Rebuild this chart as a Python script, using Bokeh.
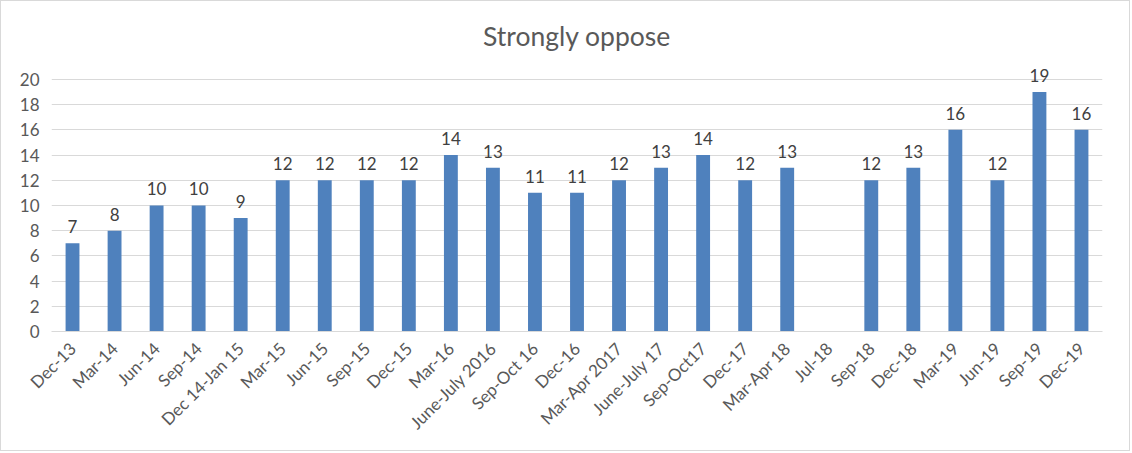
import numpy as np
from bokeh.plotting import figure
from bokeh.models import ColumnDataSource, LabelSet, FixedTicker, Range1d
from bokeh.core.properties import value
from bokeh.embed import file_html
from bokeh.resources import INLINE

# survey waves and share answering "strongly oppose"
periods = ["Dec-13", "Mar-14", "Jun-14", "Sep-14", "Dec 14-Jan 15", "Mar-15", "Jun-15",
           "Sep-15", "Dec-15", "Mar-16", "June-July 2016", "Sep-Oct 16", "Dec-16",
           "Mar-Apr 2017", "June-July 17", "Sep-Oct17", "Dec-17", "Mar-Apr 18", "Jul-18",
           "Sep-18", "Dec-18", "Mar-19", "Jun-19", "Sep-19", "Dec-19"]
oppose = [7, 8, 10, 10, 9, 12, 12, 12, 12, 14, 13, 11, 11, 12, 13, 14, 12, 13, None,
          12, 13, 16, 12, 19, 16]
y_ticks = [0, 2, 4, 6, 8, 10, 12, 14, 16, 18, 20]

FONT = "Lato"
GREY = "#595959"

# drop the wave with no value (Jul-18) from the bars, keep it on the axis
cats = [c for c, v in zip(periods, oppose) if v is not None]
vals = [v for v in oppose if v is not None]
source = ColumnDataSource(data=dict(x=cats, top=vals, txt=[str(v) for v in vals]))

p = figure(x_range=periods, y_range=Range1d(0, 21.5), width=1130, height=451,
           output_backend="svg", toolbar_location=None,
           min_border_left=50, min_border_right=29, min_border_top=59, min_border_bottom=121)

p.vbar(x="x", top="top", width=0.33, source=source, fill_color="#4F81BD", line_color=None)

labels = LabelSet(x="x", y="top", text="txt", source=source, text_align="center",
                  text_baseline="bottom", y_offset=10, text_font=value(FONT),
                  text_font_size="17px", text_color="#404040")
p.add_layout(labels)

p.title.text = "Strongly oppose"
p.title.align = "center"
p.title.text_font = FONT
p.title.text_font_size = "26.5px"
p.title.text_font_style = "normal"
p.title.text_color = GREY
p.title.offset = 0
p.title.standoff = 18

p.yaxis.ticker = FixedTicker(ticks=y_ticks)
p.ygrid.grid_line_color = "#d9d9d9"
p.xgrid.grid_line_color = None
p.outline_line_color = None

for ax in (p.xaxis, p.yaxis):
    ax.major_tick_line_color = None
    ax.minor_tick_line_color = None
    ax.major_label_text_font = FONT
    ax.major_label_text_color = GREY
    ax.major_label_text_font_size = "17px"
p.yaxis.axis_line_color = None
p.yaxis.major_label_standoff = 6
p.xaxis.axis_line_color = "#d9d9d9"
p.xaxis.major_label_orientation = np.pi / 4
p.xaxis.major_label_standoff = 8
p.x_range.range_padding = 0

p.styles = {"border": "1px solid #d9d9d9"}

open("out.html", "w").write(file_html(p, INLINE))
